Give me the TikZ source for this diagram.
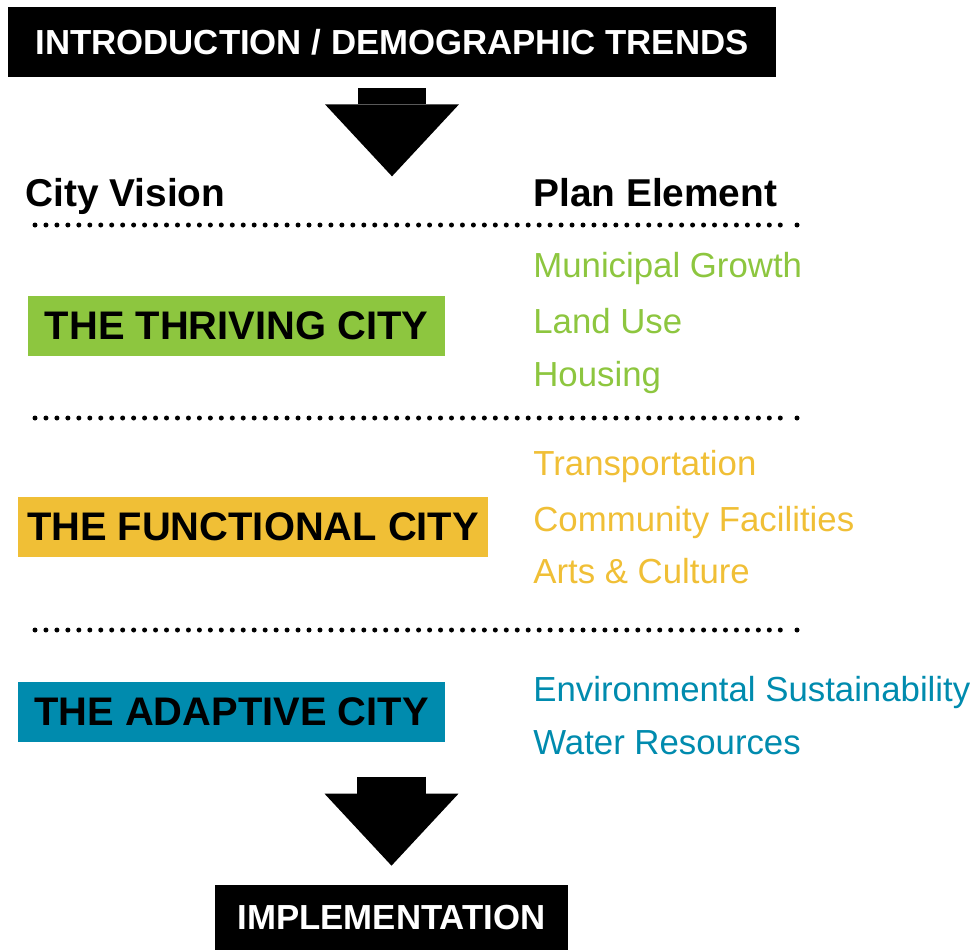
\documentclass[tikz,border=0pt]{standalone}
\usepackage{fontspec}
\setmainfont{Liberation Sans}
\usetikzlibrary{arrows.meta}

\definecolor{thrivegreen}{RGB}{141,198,63}
\definecolor{functionorange}{RGB}{240,191,54}
\definecolor{adaptblue}{RGB}{0,139,174}

\begin{document}
\begin{tikzpicture}[x=0.02cm,y=-0.02cm,
		banner/.style={fill=black,text=white,inner sep=0pt,text depth=0pt,font=\bfseries\fontsize{19.8}{24}\selectfont},
		citybox/.style={inner sep=0pt,text depth=0pt,minimum height=1.2cm,font=\bfseries\fontsize{22.7}{27}\selectfont},
		colhead/.style={anchor=base west,inner sep=0pt,font=\bfseries\fontsize{22.1}{27}\selectfont},
		element/.style={anchor=base west,inner sep=0pt,font=\fontsize{19.8}{24}\selectfont},
		bigarrow/.style={line width=1.38cm,-{Triangle[width=2.68cm,length=1.44cm,line width=0pt]}}]
		\useasboundingbox (0,0) rectangle (970,950);
		
		\node[banner,minimum width=15.36cm,minimum height=1.4cm] (intro) at (392,42) {INTRODUCTION / DEMOGRAPHIC TRENDS};
		\draw[bigarrow] ([yshift=-0.22cm]intro.south) -- ++(0,88);
		
		\node[colhead] (vision) at (25,206) {City Vision};
		\node[colhead] (plan) at (533,206) {Plan Element};
		
		% dotted separators
		\foreach \y in {225,418,630}{
			\foreach \i in {0,...,68}{
				\fill ({35+\i*10.96},\y) circle[radius=0.05cm];
			}
			\fill (797,\y) circle[radius=0.05cm];
		}
		
		\node[citybox,fill=thrivegreen,minimum width=8.34cm] (thriving) at (236.5,326) {THE THRIVING CITY};
		\node[element,text=thrivegreen] (growth) at (533,277) {Municipal Growth};
		\node[element,text=thrivegreen] (landuse) at (533,333) {Land Use};
		\node[element,text=thrivegreen] (housing) at (533,386) {Housing};
		
		\node[citybox,fill=functionorange,minimum width=9.4cm] (functional) at (253,527) {THE FUNCTIONAL CITY};
		\node[element,text=functionorange] (transport) at (533,475) {Transportation};
		\node[element,text=functionorange] (facilities) at (533,531) {Community Facilities};
		\node[element,text=functionorange] (arts) at (533,583) {Arts \& Culture};
		
		\node[citybox,fill=adaptblue,minimum width=8.54cm] (adaptive) at (231.5,712) {THE ADAPTIVE CITY};
		\node[element,text=adaptblue] (environment) at (533,701) {Environmental Sustainability};
		\node[element,text=adaptblue] (water) at (533,754) {Water Resources};
		
		\node[banner,minimum width=7.06cm,minimum height=1.3cm] (impl) at (391.5,917.5) {IMPLEMENTATION};
		\draw[bigarrow] ([yshift=2.16cm]impl.north) -- ([yshift=0.38cm]impl.north);
\end{tikzpicture}
\end{document}
